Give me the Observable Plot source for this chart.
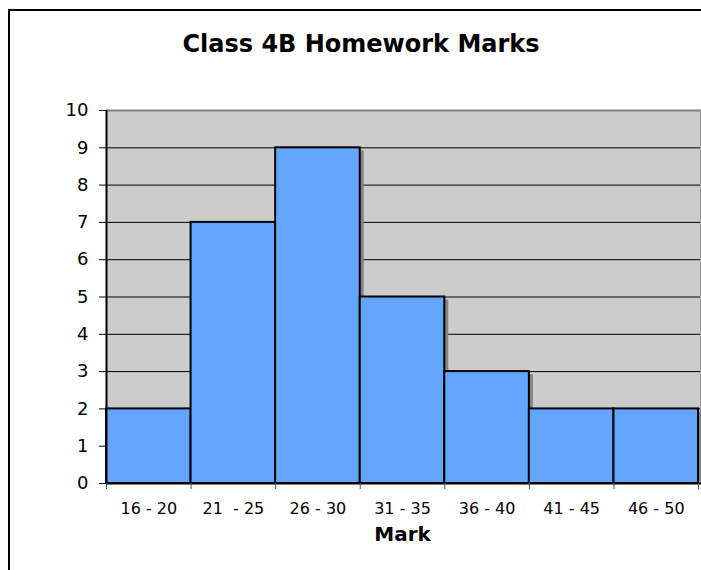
<!DOCTYPE html>
<html>
<head>
<meta charset="utf-8">
<script src="https://cdn.jsdelivr.net/npm/d3@7"></script>
<script src="https://cdn.jsdelivr.net/npm/@observablehq/plot@0.6"></script>
<style>
  html, body { margin: 0; padding: 0; background: #fff; overflow: hidden; font-family: "DejaVu Sans", Verdana, sans-serif; }
  #wrap { position: relative; width: 701px; height: 570px; overflow: hidden; }
  #vline { position: absolute; left: 8px; top: 9px; width: 2px; height: 561px; background: #000; }
  #hline { position: absolute; left: 8px; top: 9px; width: 693px; height: 2px; background: #000; }
  #title { height: 70px; box-sizing: border-box; padding-top: 32px; padding-left: 21px;
           text-align: center; font-weight: bold; font-size: 24px; line-height: 24px; color: #000; white-space: nowrap; }
  #chart svg { display: block; }
</style>
</head>
<body>
<div id="wrap">
  <div id="vline"></div>
  <div id="hline"></div>
  <div id="title">Class 4B Homework Marks</div>
  <div id="chart"></div>
</div>
<script>
const categories = ["16 - 20", "21  - 25", "26 - 30", "31 - 35", "36 - 40", "41 - 45", "46 - 50"];
const counts = [2, 7, 9, 5, 3, 2, 2];
const yTicks = [0, 1, 2, 3, 4, 5, 6, 7, 8, 9, 10];
const xLabel = "Mark";

const data = categories.map((c, i) => ({ cat: c, i0: i, i1: i + 1, mid: i + 0.5, n: counts[i] }));
const edges = d3.range(0, categories.length + 1);
const mids = data.map(d => d.mid);
const xMax = categories.length * 1.005;

const chart = Plot.plot({
  width: 701,
  height: 500,
  marginTop: 40,
  marginBottom: 87,
  marginLeft: 106,
  marginRight: 0,
  style: { fontFamily: "DejaVu Sans, Verdana, sans-serif", color: "#000", background: "transparent" },
  x: { type: "linear", domain: [0, xMax] },
  y: { domain: [0, 10] },
  marks: [
    Plot.frame({ fill: "#cccccc", stroke: "none" }),
    Plot.ruleY(yTicks.filter(v => v > 0 && v < 10), { stroke: "#000", strokeWidth: 1 }),
    Plot.ruleY([10], { stroke: "#808080", strokeWidth: 2 }),
    Plot.ruleX([xMax], { y1: 0, y2: 10, stroke: "#999", strokeWidth: 1, dx: -1 }),
    Plot.rectY(data, { x1: "i0", x2: "i1", y: "n", dx: 4, dy: 3, fill: "#858585", clip: "frame" }),
    Plot.rectY(data, { x1: "i0", x2: "i1", y: "n", fill: "#62a6ff", stroke: "#000", strokeWidth: 2 }),
    Plot.ruleY([0], { stroke: "#000", strokeWidth: 2 }),
    Plot.ruleX([0], { y1: 0, y2: 10, stroke: "#000", strokeWidth: 2 }),
    Plot.axisY({ ticks: yTicks, tickSize: 7, tickPadding: 11, fontSize: 18, tickFormat: d => String(d), stroke: "#000", label: null }),
    Plot.axisX({ ticks: edges, tickSize: 6, tickFormat: () => "", stroke: "#555", label: null }),
    Plot.axisX({ ticks: mids, tickSize: 0, tickPadding: 19, fontSize: 16, tickFormat: d => categories[Math.floor(d)], label: null }),
    Plot.text([xLabel], { x: categories.length / 2, frameAnchor: "bottom", dy: 57, fontSize: 20, fontWeight: "bold", fill: "#000" })
  ]
});
document.getElementById("chart").appendChild(chart);
</script>
</body>
</html>
